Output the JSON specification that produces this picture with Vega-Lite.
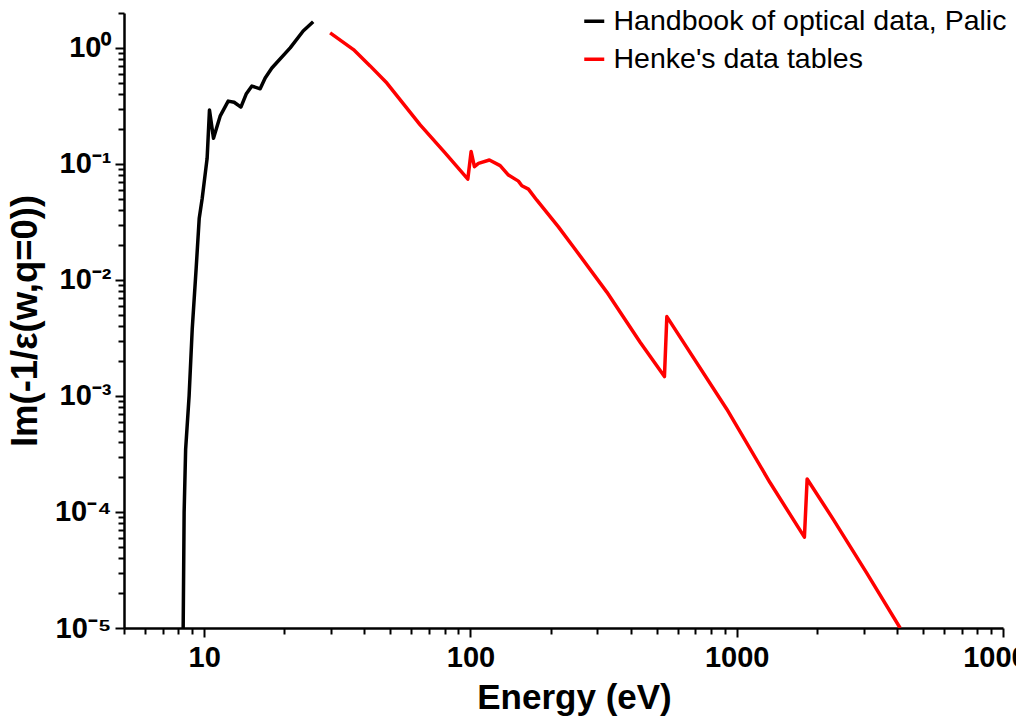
{
  "$schema": "https://vega.github.io/schema/vega-lite/v6.json",
  "width": 879,
  "height": 615,
  "autosize": "none",
  "padding": {"left": 124, "top": 13, "right": 13, "bottom": 89},
  "background": "white",
  "config": {"view": {"stroke": null}},
  "data": {
    "values": [
      {"series": "Handbook of optical data, Palic", "E": 8.34, "v": 0.00001},
      {"series": "Handbook of optical data, Palic", "E": 8.41, "v": 0.0001},
      {"series": "Handbook of optical data, Palic", "E": 8.52, "v": 0.000347},
      {"series": "Handbook of optical data, Palic", "E": 8.78, "v": 0.001},
      {"series": "Handbook of optical data, Palic", "E": 9.02, "v": 0.00378},
      {"series": "Handbook of optical data, Palic", "E": 9.33, "v": 0.0125},
      {"series": "Handbook of optical data, Palic", "E": 9.58, "v": 0.0338},
      {"series": "Handbook of optical data, Palic", "E": 9.83, "v": 0.0504},
      {"series": "Handbook of optical data, Palic", "E": 10.15, "v": 0.0916},
      {"series": "Handbook of optical data, Palic", "E": 10.26, "v": 0.1118},
      {"series": "Handbook of optical data, Palic", "E": 10.47, "v": 0.291},
      {"series": "Handbook of optical data, Palic", "E": 10.84, "v": 0.1665},
      {"series": "Handbook of optical data, Palic", "E": 11.48, "v": 0.258},
      {"series": "Handbook of optical data, Palic", "E": 12.31, "v": 0.348},
      {"series": "Handbook of optical data, Palic", "E": 12.96, "v": 0.34},
      {"series": "Handbook of optical data, Palic", "E": 13.74, "v": 0.309},
      {"series": "Handbook of optical data, Palic", "E": 14.38, "v": 0.40},
      {"series": "Handbook of optical data, Palic", "E": 15.11, "v": 0.469},
      {"series": "Handbook of optical data, Palic", "E": 16.23, "v": 0.444},
      {"series": "Handbook of optical data, Palic", "E": 16.95, "v": 0.55},
      {"series": "Handbook of optical data, Palic", "E": 17.96, "v": 0.671},
      {"series": "Handbook of optical data, Palic", "E": 21.04, "v": 1.0},
      {"series": "Handbook of optical data, Palic", "E": 23.54, "v": 1.40},
      {"series": "Handbook of optical data, Palic", "E": 25.67, "v": 1.68},
      {"series": "Henke's data tables", "E": 29.72, "v": 1.348},
      {"series": "Henke's data tables", "E": 36.37, "v": 0.967},
      {"series": "Henke's data tables", "E": 42.0, "v": 0.70},
      {"series": "Henke's data tables", "E": 48.55, "v": 0.498},
      {"series": "Henke's data tables", "E": 64.74, "v": 0.2171},
      {"series": "Henke's data tables", "E": 80.0, "v": 0.126},
      {"series": "Henke's data tables", "E": 97.77, "v": 0.07404},
      {"series": "Henke's data tables", "E": 100.6, "v": 0.1278},
      {"series": "Henke's data tables", "E": 103.5, "v": 0.0947},
      {"series": "Henke's data tables", "E": 107.2, "v": 0.1012},
      {"series": "Henke's data tables", "E": 117.8, "v": 0.1081},
      {"series": "Henke's data tables", "E": 129.3, "v": 0.0967},
      {"series": "Henke's data tables", "E": 138.9, "v": 0.0802},
      {"series": "Henke's data tables", "E": 151.4, "v": 0.0711},
      {"series": "Henke's data tables", "E": 156.0, "v": 0.0649},
      {"series": "Henke's data tables", "E": 165.1, "v": 0.0607},
      {"series": "Henke's data tables", "E": 177.6, "v": 0.0487},
      {"series": "Henke's data tables", "E": 214.0, "v": 0.02868},
      {"series": "Henke's data tables", "E": 243.7, "v": 0.01926},
      {"series": "Henke's data tables", "E": 325.2, "v": 0.00786},
      {"series": "Henke's data tables", "E": 433.8, "v": 0.002903},
      {"series": "Henke's data tables", "E": 535.3, "v": 0.001469},
      {"series": "Henke's data tables", "E": 546.5, "v": 0.004833},
      {"series": "Henke's data tables", "E": 917.9, "v": 0.000769},
      {"series": "Henke's data tables", "E": 1334.9, "v": 0.0001785},
      {"series": "Henke's data tables", "E": 1795.7, "v": 0.00006065},
      {"series": "Henke's data tables", "E": 1838.4, "v": 0.0001925},
      {"series": "Henke's data tables", "E": 2307.4, "v": 0.000086},
      {"series": "Henke's data tables", "E": 3079.3, "v": 0.00002972},
      {"series": "Henke's data tables", "E": 4108, "v": 0.00001}
    ]
  },
  "mark": {"type": "line", "strokeWidth": 3.5, "clip": true, "strokeJoin": "round"},
  "encoding": {
    "x": {
      "field": "E",
      "type": "quantitative",
      "scale": {"type": "log", "domain": [5, 10000], "nice": false},
      "axis": {
        "title": "Energy (eV)",
        "titleX": 450,
        "values": [5,6,7,8,9,10,20,30,40,50,60,70,80,90,100,200,300,400,500,600,700,800,900,1000,2000,3000,4000,5000,6000,7000,8000,9000,10000],
        "labelExpr": "datum.value == 10 ? '10' : datum.value == 100 ? '100' : datum.value == 1000 ? '1000' : datum.value == 10000 ? '10000' : ''",
        "labelOverlap": false,
        "labelFlush": false,
        "grid": false,
        "domainColor": "black",
        "domainWidth": 2.5,
        "tickColor": "black",
        "tickWidth": 2,
        "tickSize": {"condition": {"test": "datum.value == 10 || datum.value == 100 || datum.value == 1000 || datum.value == 10000", "value": 9}, "value": 6},
        "labelFont": "Liberation Sans",
        "labelFontWeight": "bold",
        "labelFontSize": 29,
        "labelColor": "black",
        "labelPadding": 6,
        "titleFont": "Liberation Sans",
        "titleFontWeight": "bold",
        "titleFontSize": 35,
        "titleColor": "black",
        "titlePadding": 8
      }
    },
    "y": {
      "field": "v",
      "type": "quantitative",
      "scale": {"type": "log", "domain": [0.00001, 2], "nice": false},
      "axis": {
        "title": "Im(-1/ε(w,q=0))",
        "values": [0.00001,0.00002,0.00003,0.00004,0.00005,0.00006,0.00007,0.00008,0.00009,0.0001,0.0002,0.0003,0.0004,0.0005,0.0006,0.0007,0.0008,0.0009,0.001,0.002,0.003,0.004,0.005,0.006,0.007,0.008,0.009,0.01,0.02,0.03,0.04,0.05,0.06,0.07,0.08,0.09,0.1,0.2,0.3,0.4,0.5,0.6,0.7,0.8,0.9,1,2],
        "labelExpr": "datum.value == 1 ? '10⁰' : datum.value == 0.1 ? '10⁻¹' : datum.value == 0.01 ? '10⁻²' : datum.value == 0.001 ? '10⁻³' : datum.value == 0.0001 ? '10⁻⁴' : datum.value == 0.00001 ? '10⁻⁵' : ''",
        "labelOverlap": false,
        "labelFlush": false,
        "grid": false,
        "domainColor": "black",
        "domainWidth": 2.5,
        "tickColor": "black",
        "tickWidth": 2,
        "tickSize": {"condition": {"test": "datum.value == 1 || datum.value == 0.1 || datum.value == 0.01 || datum.value == 0.001 || datum.value == 0.0001 || datum.value == 0.00001", "value": 9}, "value": 6},
        "labelFont": "Liberation Sans",
        "labelFontWeight": "bold",
        "labelFontSize": 29,
        "labelColor": "black",
        "labelPadding": 4,
        "titleFont": "Liberation Sans",
        "titleFontWeight": "bold",
        "titleFontSize": 36.5,
        "titleColor": "black",
        "titlePadding": 10
      }
    },
    "color": {
      "field": "series",
      "type": "nominal",
      "scale": {"domain": ["Handbook of optical data, Palic", "Henke's data tables"], "range": ["black", "#ff0000"]},
      "legend": {
        "title": null,
        "orient": "none",
        "legendX": 456,
        "legendY": -6,
        "padding": 0,
        "symbolType": "stroke",
        "symbolSize": 400,
        "symbolStrokeWidth": 3.5,
        "labelFont": "Liberation Sans",
        "labelFontSize": 28.5,
        "labelColor": "black",
        "labelOffset": 5,
        "labelLimit": 600,
        "rowPadding": 9
      }
    }
  }
}
